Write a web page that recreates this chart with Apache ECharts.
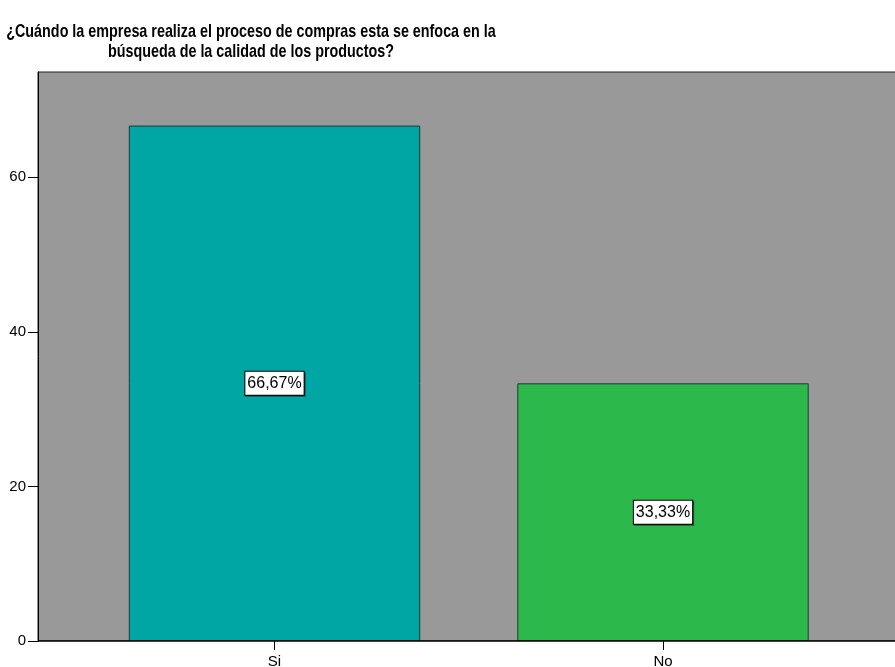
<!DOCTYPE html>
<html>
<head>
<meta charset="utf-8">
<script src="https://cdn.jsdelivr.net/npm/echarts@6/dist/echarts.min.js"></script>
<style>html,body{margin:0;padding:0;background:#fff}#c{width:895px;height:667px}</style>
</head>
<body>
<div id="c"></div>
<script>
const categories = ["Si", "No"];
const percentValues = [66.67, 33.33];
const yTicks = [0, 20, 40, 60];
const titleLines = ["¿Cuándo la empresa realiza el proceso de compras esta se enfoca en la", "búsqueda de la calidad de los productos?"];
const barColors = ["#00A6A4", "#2DB84B"];

const chart = echarts.init(document.getElementById('c'));
const yMax = 73.6;
const font = 'Liberation Sans, Arial, sans-serif';
chart.setOption({
  animation: false,
  graphic: titleLines.map((t, i) => ({
    type: 'text', x: 251, y: 32 + i * 20, scaleX: 0.755, silent: true,
    style: { text: t, fill: '#000', font: 'bold 19px Liberation Sans, Arial, sans-serif',
      textAlign: 'center', textVerticalAlign: 'middle' }
  })),
  grid: [
    { left: 38, right: -20, top: 72, bottom: 26, show: true, backgroundColor: '#999999', borderColor: '#222', borderWidth: 1,
      containLabel: false, outerBoundsMode: 'none' },
    { left: 80.25, width: 777, top: 72, bottom: 26, containLabel: false, outerBoundsMode: 'none' }
  ],
  xAxis: [
    { gridIndex: 0, type: 'value', min: 0, max: 1, show: false },
    { gridIndex: 1, type: 'category', data: categories,
      axisLine: { show: false },
      axisTick: { show: true, alignWithLabel: true, length: 9, lineStyle: { color: '#000' } },
      axisLabel: { fontFamily: font, fontSize: 15, color: '#000', margin: 13 } }
  ],
  yAxis: [
    { gridIndex: 0, type: 'value', min: 0, max: yMax, interval: 20,
      splitLine: { show: false },
      axisLine: { show: true, lineStyle: { color: '#000' } },
      axisTick: { show: true, length: 10, lineStyle: { color: '#000' } },
      axisLabel: { fontFamily: font, fontSize: 15, color: '#000', margin: 12, showMaxLabel: false,
        formatter: v => yTicks.includes(v) ? String(v) : '' } },
    { gridIndex: 1, type: 'value', min: 0, max: yMax, show: false }
  ],
  series: [
    { type: 'line', xAxisIndex: 0, yAxisIndex: 0, data: [[0, 0], [1, 0]], symbol: 'none', lineStyle: { color: '#000', width: 1.5 }, z: 5, silent: true },
    { type: 'bar', xAxisIndex: 1, yAxisIndex: 1, barWidth: '75%',
      data: percentValues.map((v, i) => ({ value: v, itemStyle: { color: barColors[i] } })),
      itemStyle: { borderColor: '#1a3a38', borderWidth: 1 },
      label: { show: true, position: 'inside',
        formatter: p => p.value.toFixed(2).replace('.', ',') + '%',
        fontFamily: font, fontSize: 16, color: '#000',
        backgroundColor: '#fff', borderColor: '#000', borderWidth: 1, padding: [4, 2, 3, 2],
        shadowColor: 'rgba(0,0,0,0.5)', shadowOffsetX: 1, shadowOffsetY: 1, shadowBlur: 0 }
    }
  ]
});
</script>
</body>
</html>
